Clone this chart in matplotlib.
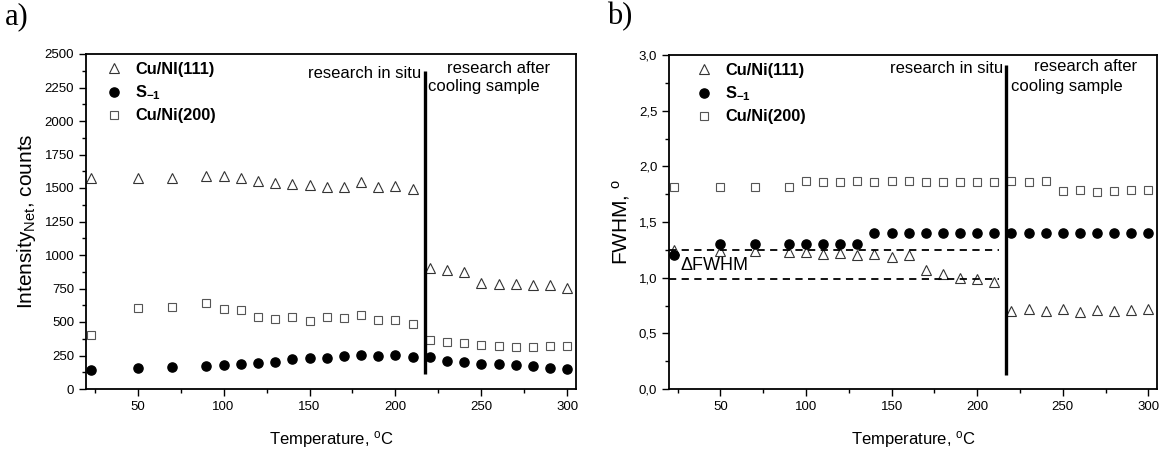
import matplotlib
matplotlib.use("Agg")
import matplotlib.pyplot as plt
from matplotlib.ticker import MultipleLocator, FuncFormatter
from matplotlib.lines import Line2D

plt.rcParams['font.family'] = ['Liberation Sans', 'DejaVu Sans']
plt.rcParams['mathtext.fontset'] = 'custom'
plt.rcParams['mathtext.rm'] = 'Liberation Sans'
plt.rcParams['mathtext.it'] = 'Liberation Sans:italic'
plt.rcParams['mathtext.bf'] = 'Liberation Sans:bold'

# ---- data ----
temps = [23, 50, 70, 90, 100, 110, 120, 130, 140, 150, 160, 170, 180, 190, 200,
         210, 220, 230, 240, 250, 260, 270, 280, 290, 300]

int_111 = [1575, 1578, 1578, 1592, 1588, 1575, 1555, 1535, 1532, 1520, 1507, 1505,
           1543, 1505, 1515, 1492, 900, 888, 876, 790, 782, 780, 778, 775, 752]
int_s1 = [140, 158, 165, 170, 178, 188, 192, 205, 222, 228, 235, 245, 255, 250, 255,
          240, 236, 210, 200, 190, 185, 178, 173, 153, 147]
int_200 = [404, 607, 612, 644, 600, 592, 540, 520, 535, 508, 535, 528, 555, 518, 518,
           488, 362, 352, 342, 325, 318, 312, 312, 320, 322]

fwhm_111 = [1.25, 1.24, 1.24, 1.23, 1.23, 1.21, 1.22, 1.20, 1.21, 1.19, 1.20, 1.07,
            1.03, 1.00, 0.99, 0.965, 0.70, 0.715, 0.70, 0.715, 0.69, 0.71, 0.70, 0.71, 0.715]
fwhm_s1 = [1.2, 1.3, 1.3, 1.3, 1.3, 1.3, 1.3, 1.3, 1.4, 1.4, 1.4, 1.4, 1.4, 1.4, 1.4,
           1.4, 1.4, 1.4, 1.4, 1.4, 1.4, 1.4, 1.4, 1.4, 1.4]
fwhm_200 = [1.81, 1.81, 1.81, 1.81, 1.87, 1.86, 1.86, 1.87, 1.86, 1.87, 1.87, 1.86,
            1.86, 1.86, 1.86, 1.86, 1.87, 1.86, 1.87, 1.78, 1.785, 1.77, 1.78, 1.785, 1.785]

divider_T = 217
delta_levels = [1.25, 0.985]
delta_xmax = 213

labels_a = ['Cu/NI(111)', r'$\mathbf{S}_{\mathbf{-1}}$', 'Cu/Ni(200)']
labels_b = ['Cu/Ni(111)', r'$\mathbf{S}_{\mathbf{-1}}$', 'Cu/Ni(200)']

W, H = 1163, 450
fig = plt.figure(figsize=(W / 100, H / 100), dpi=100)

def px_axes(l, t, r, b):
    return fig.add_axes([l / W, 1 - b / H, (r - l) / W, (b - t) / H])

ax1 = px_axes(86, 54, 576, 389)
ax2 = px_axes(669, 55, 1157, 389)

tri = dict(marker='^', linestyle='none', markersize=7.2, markerfacecolor='white',
           markeredgecolor='#333333', markeredgewidth=0.8)
cir = dict(marker='o', linestyle='none', markersize=6.6, markerfacecolor='black',
           markeredgecolor='black')
sq = dict(marker='s', linestyle='none', markersize=5.6, markerfacecolor='white',
          markeredgecolor='#555555', markeredgewidth=0.8)

def style(ax, ymaj, ymin):
    ax.set_xlim(20, 305)
    ax.xaxis.set_major_locator(MultipleLocator(50))
    ax.xaxis.set_minor_locator(MultipleLocator(25))
    ax.yaxis.set_major_locator(MultipleLocator(ymaj))
    ax.yaxis.set_minor_locator(MultipleLocator(ymin))
    ax.tick_params(which='both', direction='out', top=False, right=False,
                   labelsize=9.5, width=1.0)
    ax.tick_params(which='major', length=5)
    ax.tick_params(which='minor', length=3)
    for s in ax.spines.values():
        s.set_linewidth(1.3)
    ax.set_xlabel('Temperature, $^{\\mathrm{o}}$C', fontsize=12, labelpad=12)

# ---- panel a ----
ax1.plot(temps, int_111, **tri)
ax1.plot(temps, int_s1, **cir)
ax1.plot(temps, int_200, **sq)
ax1.set_ylim(0, 2500)
style(ax1, 250, 125)
ax1.xaxis.set_major_formatter(FuncFormatter(lambda v, p: f'{v:.0f}'))
ax1.set_ylabel('Intensity$_{\\mathrm{Net}}$, counts', fontsize=15, labelpad=5)
ax1.vlines(divider_T, 110, 2370, color='black', linewidth=2.4)
ax1.text(215, 2355, 'research in situ', fontsize=12, ha='right', va='center')
ax1.text(230, 2395, 'research after', fontsize=12, ha='left', va='center')
ax1.text(219, 2256, 'cooling sample', fontsize=12, ha='left', va='center')

# ---- panel b ----
ax2.plot(temps, fwhm_111, **tri)
ax2.plot(temps, fwhm_s1, **cir)
ax2.plot(temps, fwhm_200, **sq)
ax2.set_ylim(0, 3)
style(ax2, 0.5, 0.25)
ax2.yaxis.set_major_formatter(FuncFormatter(lambda v, p: f'{v:.1f}'.replace('.', ',')))
ax2.set_ylabel('FWHM, $^{\\mathrm{o}}$', fontsize=15, labelpad=5)
ax2.vlines(divider_T, 0.13, 2.91, color='black', linewidth=2.4)
for lv in delta_levels:
    ax2.plot([20, delta_xmax], [lv, lv], color='black', linestyle=(0, (4, 3)), linewidth=1.3)
ax2.text(27, 1.11, '\u0394FWHM', fontsize=13, ha='left', va='center')
ax2.text(215, 2.88, 'research in situ', fontsize=12, ha='right', va='center')
ax2.text(233, 2.90, 'research after', fontsize=12, ha='left', va='center')
ax2.text(220, 2.72, 'cooling sample', fontsize=12, ha='left', va='center')

# ---- legends ----
def legend(ax, labels, x0):
    handles = [Line2D([], [], **tri), Line2D([], [], **cir), Line2D([], [], **sq)]
    lg = ax.legend(handles, labels, loc='upper left', frameon=False, numpoints=1,
                   prop={'weight': 'bold', 'size': 11.8}, handlelength=1.2,
                   handletextpad=0.7, labelspacing=0.38, borderaxespad=0.1,
                   bbox_to_anchor=(x0, 1.0))
    return lg

legend(ax1, labels_a, 0.02)
legend(ax2, labels_b, 0.035)

fig.text(5 / W, 1 - 2 / H, 'a)', fontsize=22, family='Liberation Serif', ha='left', va='top')
fig.text(607 / W, 1 - 2 / H, 'b)', fontsize=22, family='Liberation Serif', ha='left', va='top')

fig.savefig('out.png', dpi=100)
